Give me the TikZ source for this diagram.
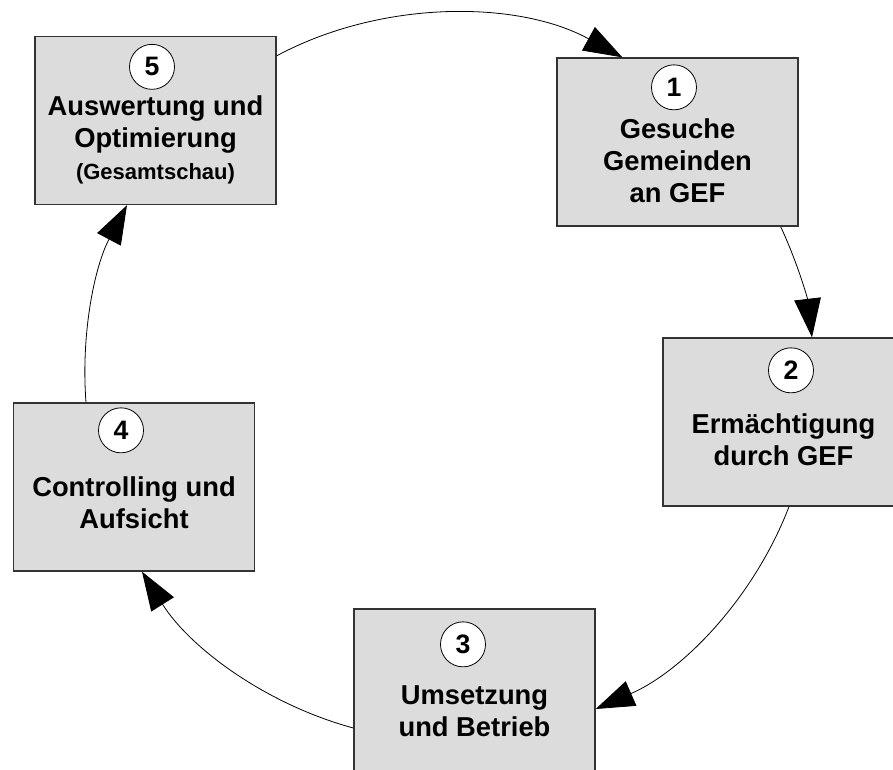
\documentclass[tikz,border=0pt]{standalone}
\usepackage{fontspec}
\setmainfont{Liberation Sans}
\usetikzlibrary{arrows.meta}
\definecolor{boxgray}{HTML}{DCDCDC}

\begin{document}
\begin{tikzpicture}[
  x=0.75pt, y=-0.75pt,
  stage/.style={draw=black!80, line width=1pt, fill=boxgray, minimum width=180.75pt, minimum height=126pt, inner sep=0pt},
  num/.style={circle, draw, fill=white, line width=0.6pt, minimum size=33.75pt, inner sep=0pt, font=\bfseries\fontsize{20}{24}\selectfont},
  stagetext/.style={align=center, font=\bfseries\fontsize{20.5}{24}\selectfont},
  flow/.style={-{Triangle[length=29pt,width=20pt]}, line width=0.6pt, looseness=0.88},
]
  \useasboundingbox (0,0) rectangle (893,769);
  \clip (0,0) rectangle (893,769);

  \node[stage] (auswert) at (155.5,120.5) {};
  \node[stage] (gesuch) at (677.5,142) {};
  \node[stage] (ermaecht) at (783.5,422) {};
  \node[stage] (umsetz) at (474.5,693) {};
  \node[stage] (control) at (134,487) {};

  \node[num] (n5) at ([shift={(-3.5,31)}]auswert.north) {5};
  \node[num] (n1) at ([shift={(-3.5,30)}]gesuch.north) {1};
  \node[num] (n2) at ([shift={(7.5,33)}]ermaecht.north) {2};
  \node[num] (n3) at ([shift={(-11.5,36)}]umsetz.north) {3};
  \node[num] (n4) at ([shift={(-13,28)}]control.north) {4};

  \node[stagetext] (t5) at ([shift={(0,19)}]auswert.center) {Auswertung und\\Optimierung\\{\fontsize{16.5}{20}\selectfont (Gesamtschau)}};
  \node[stagetext] (t1) at ([shift={(0,19)}]gesuch.center) {Gesuche\\Gemeinden\\an GEF};
  \node[stagetext] (t2) at ([shift={(0,18)}]ermaecht.center) {Ermächtigung\\durch GEF};
  \node[stagetext] (t3) at ([shift={(0,18)}]umsetz.center) {Umsetzung\\und Betrieb};
  \node[stagetext] (t4) at ([shift={(0,16)}]control.center) {Controlling und\\Aufsicht};

  \draw[flow] ([shift={(0,20)}]auswert.north east) to[bend left=28.5] ([shift={(66,0)}]gesuch.north west);
  \draw[flow] ([shift={(-18,0)}]gesuch.south east) to[bend left=9.2] ([shift={(28.5,0)}]ermaecht.north);
  \draw[flow] ([shift={(5.5,0)}]ermaecht.south) to[bend left=22.7] ([shift={(0,16)}]umsetz.east);
  \draw[flow] ([shift={(0,35)}]umsetz.west) to[bend left=21.3] ([shift={(8,0)}]control.south);
  \draw[flow] ([shift={(-48,0)}]control.north) to[bend left=16.1] ([shift={(-28.5,0)}]auswert.south);
\end{tikzpicture}
\end{document}
